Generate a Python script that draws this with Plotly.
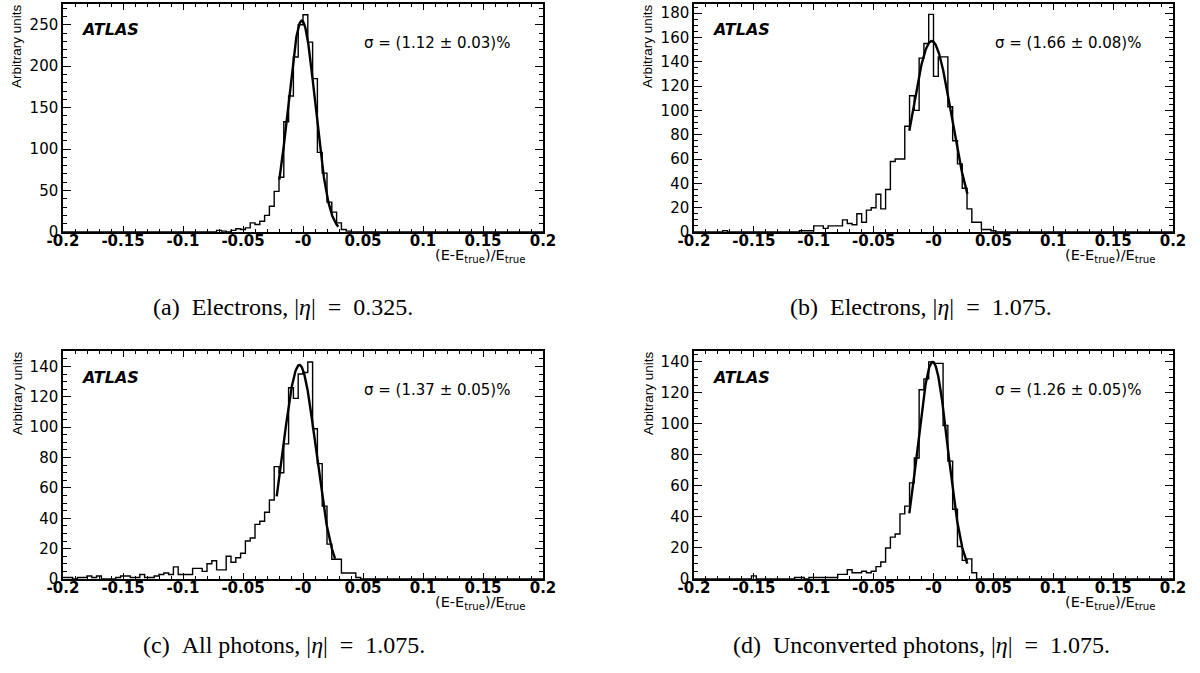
import numpy as np
import plotly.graph_objects as go

# ---------------- data ----------------
BIN_LOW = -0.2
BIN_WIDTH = 0.004
N_BINS = 100

# histogram contents, 100 bins of width 0.004 from -0.2 to 0.2
counts_a = [0, 0, 0, 0, 0, 0, 0, 0, 0, 0,
            0, 0, 0, 0, 0, 0, 0, 0, 0, 0,
            0, 0, 0, 0, 0, 0, 0, 0, 0, 0,
            0, 0, 2, 1, 0, 2, 4, 3, 5, 11,
            9, 13, 20, 31, 49, 66, 133, 164, 211, 250,
            262, 229, 185, 96, 71, 36, 24, 11, 3, 1,
            0, 0, 0, 0, 0, 0, 0, 0, 0, 0,
            0, 0, 0, 0, 0, 0, 0, 0, 0, 0,
            0, 0, 0, 0, 0, 0, 0, 0, 0, 0,
            0, 0, 0, 0, 0, 0, 0, 0, 0, 0]

counts_b = [0, 0, 0, 0, 0, 0, 1, 0, 0, 0,
            0, 0, 0, 0, 0, 0, 0, 0, 0, 0,
            0, 0, 1, 1, 1, 5, 5, 3, 5, 5,
            5, 10, 7, 6, 15, 8, 18, 20, 31, 19,
            35, 58, 60, 60, 87, 112, 100, 143, 155, 179,
            128, 144, 144, 103, 75, 56, 36, 19, 8, 8,
            2, 2, 1, 0, 0, 0, 0, 0, 0, 0,
            0, 0, 0, 0, 0, 0, 0, 0, 0, 0,
            0, 0, 0, 0, 0, 0, 0, 0, 0, 0,
            0, 0, 0, 0, 0, 0, 0, 0, 0, 0]

counts_c = [1, 1, 0, 1, 1, 2, 1, 2, 0, 0,
            0, 1, 2, 2, 1, 1, 3, 1, 1, 2,
            3, 4, 3, 8, 3, 3, 3, 7, 7, 5,
            10, 12, 6, 6, 15, 11, 14, 17, 25, 27,
            36, 38, 44, 52, 74, 70, 89, 126, 119, 135,
            136, 143, 99, 76, 48, 23, 13, 13, 4, 4,
            4, 1, 0, 0, 0, 0, 0, 0, 0, 0,
            0, 0, 0, 0, 0, 0, 0, 0, 0, 0,
            0, 0, 0, 0, 0, 0, 0, 0, 0, 0,
            0, 0, 0, 0, 0, 0, 0, 0, 0, 0]

counts_d = [0, 0, 0, 0, 0, 0, 0, 0, 0, 0,
            0, 0, 2, 0, 0, 0, 0, 0, 0, 0,
            0, 1, 1, 0, 1, 1, 1, 1, 1, 1,
            3, 3, 6, 4, 4, 5, 4, 5, 8, 11,
            20, 27, 29, 42, 47, 62, 78, 122, 129, 140,
            139, 139, 99, 76, 45, 21, 12, 13, 4, 0,
            0, 0, 0, 0, 0, 0, 0, 0, 0, 0,
            0, 0, 0, 0, 0, 0, 0, 0, 0, 0,
            0, 0, 0, 0, 0, 0, 0, 0, 0, 0,
            0, 0, 0, 0, 0, 0, 0, 0, 0, 0]

# Gaussian fit parameters (amplitude, mean, sigma, fit range)
fit_amp = [255, 157, 141, 140]
fit_mean = [-0.001, -0.0015, -0.003, -0.0007]
fit_sigma = [0.0112, 0.0166, 0.0137, 0.0126]
fit_lo = [-0.0197, -0.0202, -0.0219, -0.0202]
fit_hi = [0.0294, 0.0283, 0.0267, 0.0283]

sigma_labels = ["σ = (1.12 ± 0.03)%", "σ = (1.66 ± 0.08)%",
                "σ = (1.37 ± 0.05)%", "σ = (1.26 ± 0.05)%"]
captions = ["(a)\u2002Electrons, |<i>η</i>|\u2002=\u20020.325.",
            "(b)\u2002Electrons, |<i>η</i>|\u2002=\u20021.075.",
            "(c)\u2002All photons, |<i>η</i>|\u2002=\u20021.075.",
            "(d)\u2002Unconverted photons, |<i>η</i>|\u2002=\u20021.075."]

xtick_vals = [-0.2, -0.15, -0.1, -0.05, 0.0, 0.05, 0.1, 0.15, 0.2]
xtick_text = ["-0.2", "-0.15", "-0.1", "-0.05", "-0", "0.05", "0.1", "0.15", "0.2"]
y_max = [275, 187.5, 150.2, 147]
y_major = [50, 20, 20, 20]
y_minor = [10, 5, 5, 5]

all_counts = [counts_a, counts_b, counts_c, counts_d]

# ---------------- layout geometry (pixels) ----------------
W, H = 1200, 673
boxes = [(63, 543, 4, 232), (694, 1173, 4, 232), (63, 543, 351, 579), (694, 1173, 351, 579)]
caption_pos = [(283, 307), (921, 307), (284, 645), (921, 645)]


def px(x):
    return x / W


def py(y):
    return 1 - y / H


fig = go.Figure()
layout_axes = {}
annotations = []
FONT = "Liberation Sans"
WIDE = "DejaVu Sans"

edges = [BIN_LOW + BIN_WIDTH * k for k in range(N_BINS + 1)]

for i, counts in enumerate(all_counts):
    sfx = "" if i == 0 else str(i + 1)
    fig.add_trace(go.Scatter(
        x=edges, y=list(counts) + [counts[-1]], mode="lines",
        line=dict(shape="hv", color="black", width=1.4),
        xaxis="x" + sfx, yaxis="y" + sfx, hoverinfo="skip", showlegend=False))
    xf = np.linspace(fit_lo[i], fit_hi[i], 200)
    yf = fit_amp[i] * np.exp(-0.5 * ((xf - fit_mean[i]) / fit_sigma[i]) ** 2)
    fig.add_trace(go.Scatter(
        x=xf, y=yf, mode="lines", line=dict(color="black", width=2.4),
        xaxis="x" + sfx, yaxis="y" + sfx, hoverinfo="skip", showlegend=False))

    x0, x1, y0, y1 = boxes[i]
    layout_axes["xaxis" + sfx] = dict(
        domain=[px(x0), px(x1)], anchor="y" + sfx, range=[-0.2, 0.2], automargin=False,
        tickmode="array", tickvals=xtick_vals, ticktext=xtick_text,
        ticks="inside", ticklen=6, tickwidth=1, tickcolor="black",
        minor=dict(dtick=0.01, tick0=0, ticks="inside", ticklen=3, tickwidth=1, tickcolor="black"),
        showline=True, linecolor="black", linewidth=1.5, mirror="allticks",
        showgrid=False, zeroline=False, ticklabelstandoff=-6,
        tickfont=dict(family=WIDE, size=15, color="black", weight="bold"))
    layout_axes["yaxis" + sfx] = dict(
        domain=[py(y1), py(y0)], anchor="x" + sfx, range=[0, y_max[i]], automargin=False,
        tick0=0, dtick=y_major[i],
        ticks="inside", ticklen=8, tickwidth=1, tickcolor="black",
        minor=dict(dtick=y_minor[i], tick0=0, ticks="inside", ticklen=4, tickwidth=1, tickcolor="black"),
        showline=True, linecolor="black", linewidth=1.5, mirror="allticks",
        showgrid=False, zeroline=False,
        tickfont=dict(family=WIDE, size=15, color="black"))

    # ATLAS label
    annotations.append(dict(x=px(x0 + 16), y=py(y0 + 26), xref="paper", yref="paper",
                            text="<b><i>ATLAS</i></b>", showarrow=False, xanchor="left", yanchor="middle",
                            font=dict(family=WIDE, size=16, color="black")))
    # sigma label
    annotations.append(dict(x=px(x0 + 299), y=py(y0 + 39), xref="paper", yref="paper",
                            text=sigma_labels[i], showarrow=False, xanchor="left", yanchor="middle",
                            font=dict(family=WIDE, size=15, color="black")))
    # y axis title
    annotations.append(dict(x=px(x0 - 46), y=py(y0 + 42), xref="paper", yref="paper",
                            text="Arbitrary units", textangle=-90, showarrow=False,
                            xanchor="center", yanchor="middle",
                            font=dict(family=FONT, size=13.5, color="black")))
    # x axis title
    annotations.append(dict(x=px(x1 - 15), y=py(y1 + 13), xref="paper", yref="paper",
                            text="(E-E<sub>true</sub>)/E<sub>true</sub>", showarrow=False,
                            xanchor="right", yanchor="top",
                            font=dict(family=WIDE, size=14.5, color="black")))
    # caption
    cx, cy = caption_pos[i]
    annotations.append(dict(x=px(cx), y=py(cy), xref="paper", yref="paper",
                            text=captions[i], showarrow=False, xanchor="center", yanchor="middle",
                            font=dict(family="Liberation Serif", size=24, color="black")))

fig.update_layout(
    width=W, height=H, margin=dict(l=0, r=0, t=0, b=0, autoexpand=False),
    paper_bgcolor="white", plot_bgcolor="white",
    showlegend=False, annotations=annotations, **layout_axes)

fig.write_html("out.html", config={"displayModeBar": False},
               post_script="document.body.style.margin='0';document.body.style.padding='0';")
